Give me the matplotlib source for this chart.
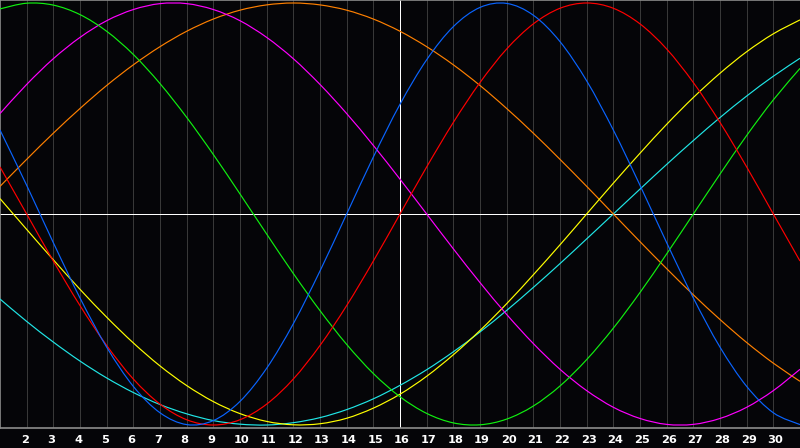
import matplotlib
matplotlib.use("Agg")
import matplotlib.pyplot as plt
import matplotlib.transforms as mtransforms
from matplotlib.path import Path
from matplotlib.patches import PathPatch

days = list(range(1, 32))
tick_days = list(range(2, 31))
tick_labels = [str(d) for d in tick_days]
marker_day = 16

series_blue = [0.398, 0.136, -0.136, -0.398, -0.631, -0.817, -0.942, -0.998, -0.979, -0.888,
               -0.731, -0.520, -0.270, 0.000, 0.270, 0.520, 0.731, 0.888, 0.979, 0.998,
               0.942, 0.817, 0.631, 0.398, 0.136, -0.136, -0.398, -0.631, -0.817, -0.942, -0.998]
series_red = [0.223, 0.000, -0.223, -0.434, -0.623, -0.782, -0.901, -0.975, -1.000, -0.975,
              -0.901, -0.782, -0.623, -0.434, -0.223, 0.000, 0.223, 0.434, 0.623, 0.782,
              0.901, 0.975, 1.000, 0.975, 0.901, 0.782, 0.623, 0.434, 0.223, 0.000, -0.223]
series_green = [0.972, 0.999, 0.990, 0.945, 0.866, 0.756, 0.618, 0.458, 0.282, 0.095,
                -0.095, -0.282, -0.458, -0.618, -0.756, -0.866, -0.945, -0.990, -0.999, -0.972,
                -0.910, -0.815, -0.690, -0.541, -0.372, -0.189, 0.000, 0.189, 0.372, 0.541, 0.690]
series_magenta = [0.476, 0.614, 0.736, 0.837, 0.916, 0.969, 0.997, 0.997, 0.969, 0.916,
                  0.837, 0.736, 0.614, 0.476, 0.325, 0.165, 0.000, -0.165, -0.325, -0.476,
                  -0.614, -0.736, -0.837, -0.916, -0.969, -0.997, -0.997, -0.969, -0.916, -0.837, -0.736]
series_yellow = [0.073, -0.073, -0.217, -0.357, -0.489, -0.611, -0.720, -0.813, -0.889, -0.946,
                 -0.983, -0.999, -0.994, -0.968, -0.920, -0.854, -0.769, -0.667, -0.552, -0.425,
                 -0.288, -0.146, 0.000, 0.146, 0.288, 0.425, 0.552, 0.667, 0.769, 0.854, 0.920]
series_orange = [0.131, 0.259, 0.383, 0.500, 0.609, 0.707, 0.793, 0.866, 0.924, 0.966,
                 0.991, 1.000, 0.991, 0.966, 0.924, 0.866, 0.793, 0.707, 0.609, 0.500,
                 0.383, 0.259, 0.131, 0.000, -0.131, -0.259, -0.383, -0.500, -0.609, -0.707, -0.793]
series_cyan = [-0.403, -0.509, -0.607, -0.697, -0.777, -0.846, -0.903, -0.947, -0.979, -0.996,
               -1.000, -0.989, -0.965, -0.927, -0.876, -0.812, -0.738, -0.653, -0.559, -0.457,
               -0.348, -0.235, -0.118, 0.000, 0.118, 0.235, 0.348, 0.457, 0.559, 0.653, 0.738]


def smooth_path(xs, ys):
    """Smooth (Catmull-Rom / cubic Bezier) line through the given points."""
    n = len(xs)
    verts = [(xs[0], ys[0])]
    codes = [Path.MOVETO]
    for i in range(n - 1):
        i0 = max(i - 1, 0)
        i3 = min(i + 2, n - 1)
        x0, y0 = xs[i0], ys[i0]
        x1, y1 = xs[i], ys[i]
        x2, y2 = xs[i + 1], ys[i + 1]
        x3, y3 = xs[i3], ys[i3]
        c1 = (x1 + (x2 - x0) / 6.0, y1 + (y2 - y0) / 6.0)
        c2 = (x2 - (x3 - x1) / 6.0, y2 - (y3 - y1) / 6.0)
        verts += [c1, c2, (x2, y2)]
        codes += [Path.CURVE4, Path.CURVE4, Path.CURVE4]
    return Path(verts, codes)


bg = "#050508"
fig = plt.figure(figsize=(8.0, 4.48), dpi=100, facecolor=bg)
ax = fig.add_axes([0.0, 20 / 448, 1.0, 428 / 448])
ax.set_facecolor(bg)
ax.set_xlim(1, 31)
ax.set_ylim(-1.0142, 1.0142)

px = 0.72  # one pixel in points
for d in tick_days:
    ax.axvline(d, color="#383838", lw=px, antialiased=False, zorder=1)
ax.axvline(marker_day, color="#ffffff", lw=px, antialiased=False, zorder=2)
ax.axhline(0, color="#ffffff", lw=px, antialiased=False, zorder=2)

series = [
    (series_cyan, "#20e6e6"),
    (series_orange, "#ff8000"),
    (series_yellow, "#ffff00"),
    (series_magenta, "#ff00ff"),
    (series_green, "#10f010"),
    (series_red, "#ff0000"),
    (series_blue, "#0a64ff"),
]
for ys, col in series:
    ax.add_patch(PathPatch(smooth_path(days, ys), facecolor="none", edgecolor=col,
                           lw=0.85, zorder=3))

ax.spines["right"].set_visible(False)
for side in ("left", "top", "bottom"):
    ax.spines[side].set_color("#8c8c8c")
    ax.spines[side].set_linewidth(1.2)

ax.set_xticks([])
ax.set_yticks([])

trans = mtransforms.blended_transform_factory(ax.transData, ax.transAxes)
offset = mtransforms.ScaledTranslation(-6 / 100, -15 / 100, fig.dpi_scale_trans)
for d, lab in zip(tick_days, tick_labels):
    ax.text(d, 0, lab, color="white", fontsize=8.2, fontweight="bold",
            family="DejaVu Sans", ha="left", va="baseline",
            transform=trans + offset, clip_on=False)

fig.savefig("out.png", dpi=100, facecolor=bg)
